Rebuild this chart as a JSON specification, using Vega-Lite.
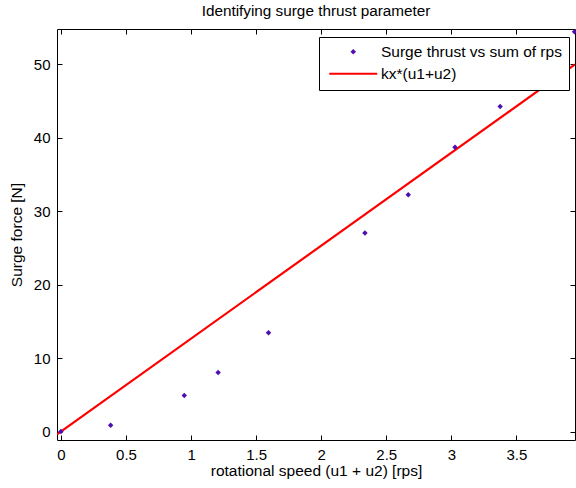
{
  "$schema": "https://vega.github.io/schema/vega-lite/v6.json",
  "width": 518,
  "height": 411,
  "autosize": {"type": "none"},
  "padding": {"left": 57, "top": 29, "right": 1, "bottom": 48},
  "background": "white",
  "title": {"text": "Identifying surge thrust parameter", "font": "Liberation Sans", "fontSize": 15.3, "fontWeight": "normal", "color": "black", "anchor": "middle", "offset": 9},
  "config": {
    "view": {"stroke": null},
    "axis": {"grid": false, "domainColor": "black", "tickColor": "black", "labelColor": "black", "titleColor": "black", "labelFont": "Liberation Sans", "titleFont": "Liberation Sans", "labelFontSize": 15, "titleFontSize": 15.5, "titleFontWeight": "normal", "tickSize": -5, "domainWidth": 1, "tickWidth": 1}
  },
  "data": {"values": [
    {"x": 0, "y": 0, "series": "Surge thrust vs sum of rps"},
    {"x": 0.382, "y": 0.87, "series": "Surge thrust vs sum of rps"},
    {"x": 0.948, "y": 4.9, "series": "Surge thrust vs sum of rps"},
    {"x": 1.208, "y": 8.04, "series": "Surge thrust vs sum of rps"},
    {"x": 1.595, "y": 13.45, "series": "Surge thrust vs sum of rps"},
    {"x": 2.336, "y": 27.03, "series": "Surge thrust vs sum of rps"},
    {"x": 2.669, "y": 32.25, "series": "Surge thrust vs sum of rps"},
    {"x": 3.028, "y": 38.69, "series": "Surge thrust vs sum of rps"},
    {"x": 3.375, "y": 44.24, "series": "Surge thrust vs sum of rps"},
    {"x": 3.946, "y": 54.41, "series": "Surge thrust vs sum of rps"},
    {"x": -0.03, "y": -0.38, "series": "kx*(u1+u2)"},
    {"x": 3.95, "y": 49.97, "series": "kx*(u1+u2)"}
  ]},
  "layer": [
    {
      "transform": [{"filter": "datum.series === 'kx*(u1+u2)'"}],
      "mark": {"type": "line", "strokeWidth": 2.2, "clip": true},
      "encoding": {
        "x": {"field": "x", "type": "quantitative", "scale": {"domain": [-0.03, 3.95], "nice": false, "zero": false},
              "axis": {"orient": "bottom", "title": "rotational speed (u1 + u2) [rps]", "values": [0, 0.5, 1, 1.5, 2, 2.5, 3, 3.5], "format": "~g", "labelPadding": 12, "titlePadding": 1, "labelFlush": false}},
        "y": {"field": "y", "type": "quantitative", "scale": {"domain": [-1.15, 54.8], "nice": false, "zero": false},
              "axis": {"orient": "left", "title": "Surge force [N]", "values": [0, 10, 20, 30, 40, 50], "labelPadding": 12, "titlePadding": 9, "labelFlush": false}},
        "color": {"field": "series", "type": "nominal",
                  "scale": {"domain": ["Surge thrust vs sum of rps", "kx*(u1+u2)"], "range": ["#4f0fae", "#ff0000"]},
                  "legend": {"orient": "none", "legendX": 262, "legendY": 8, "title": null, "strokeColor": "black", "fillColor": "white", "padding": 7, "labelFont": "Liberation Sans", "labelFontSize": 15.5, "labelColor": "black", "labelOffset": 20, "labelLimit": 400, "rowPadding": 5, "symbolOffset": 19.5, "symbolStrokeWidth": 2,
                    "encode": {"symbols": {"update": {
                      "shape": {"signal": "datum.value === 'kx*(u1+u2)' ? 'stroke' : 'diamond'"},
                      "size": {"signal": "datum.value === 'kx*(u1+u2)' ? 2304 : 30"},
                      "fill": {"signal": "datum.value === 'kx*(u1+u2)' ? 'transparent' : '#4f0fae'"},
                      "stroke": {"signal": "datum.value === 'kx*(u1+u2)' ? '#ff0000' : '#4f0fae'"},
                      "strokeWidth": {"signal": "datum.value === 'kx*(u1+u2)' ? 2.2 : 0"},
                      "opacity": {"value": 1}
                    }}}}}
      }
    },
    {
      "transform": [{"filter": "datum.series === 'Surge thrust vs sum of rps'"}],
      "mark": {"type": "point", "shape": "diamond", "filled": true, "size": 30, "opacity": 1},
      "encoding": {
        "x": {"field": "x", "type": "quantitative", "axis": {"orient": "top", "title": null, "labels": false, "values": [0, 0.5, 1, 1.5, 2, 2.5, 3, 3.5]}},
        "y": {"field": "y", "type": "quantitative", "axis": {"orient": "right", "title": null, "labels": false, "values": [0, 10, 20, 30, 40, 50]}},
        "color": {"field": "series", "type": "nominal"}
      }
    }
  ],
  "resolve": {"axis": {"x": "independent", "y": "independent"}}
}
